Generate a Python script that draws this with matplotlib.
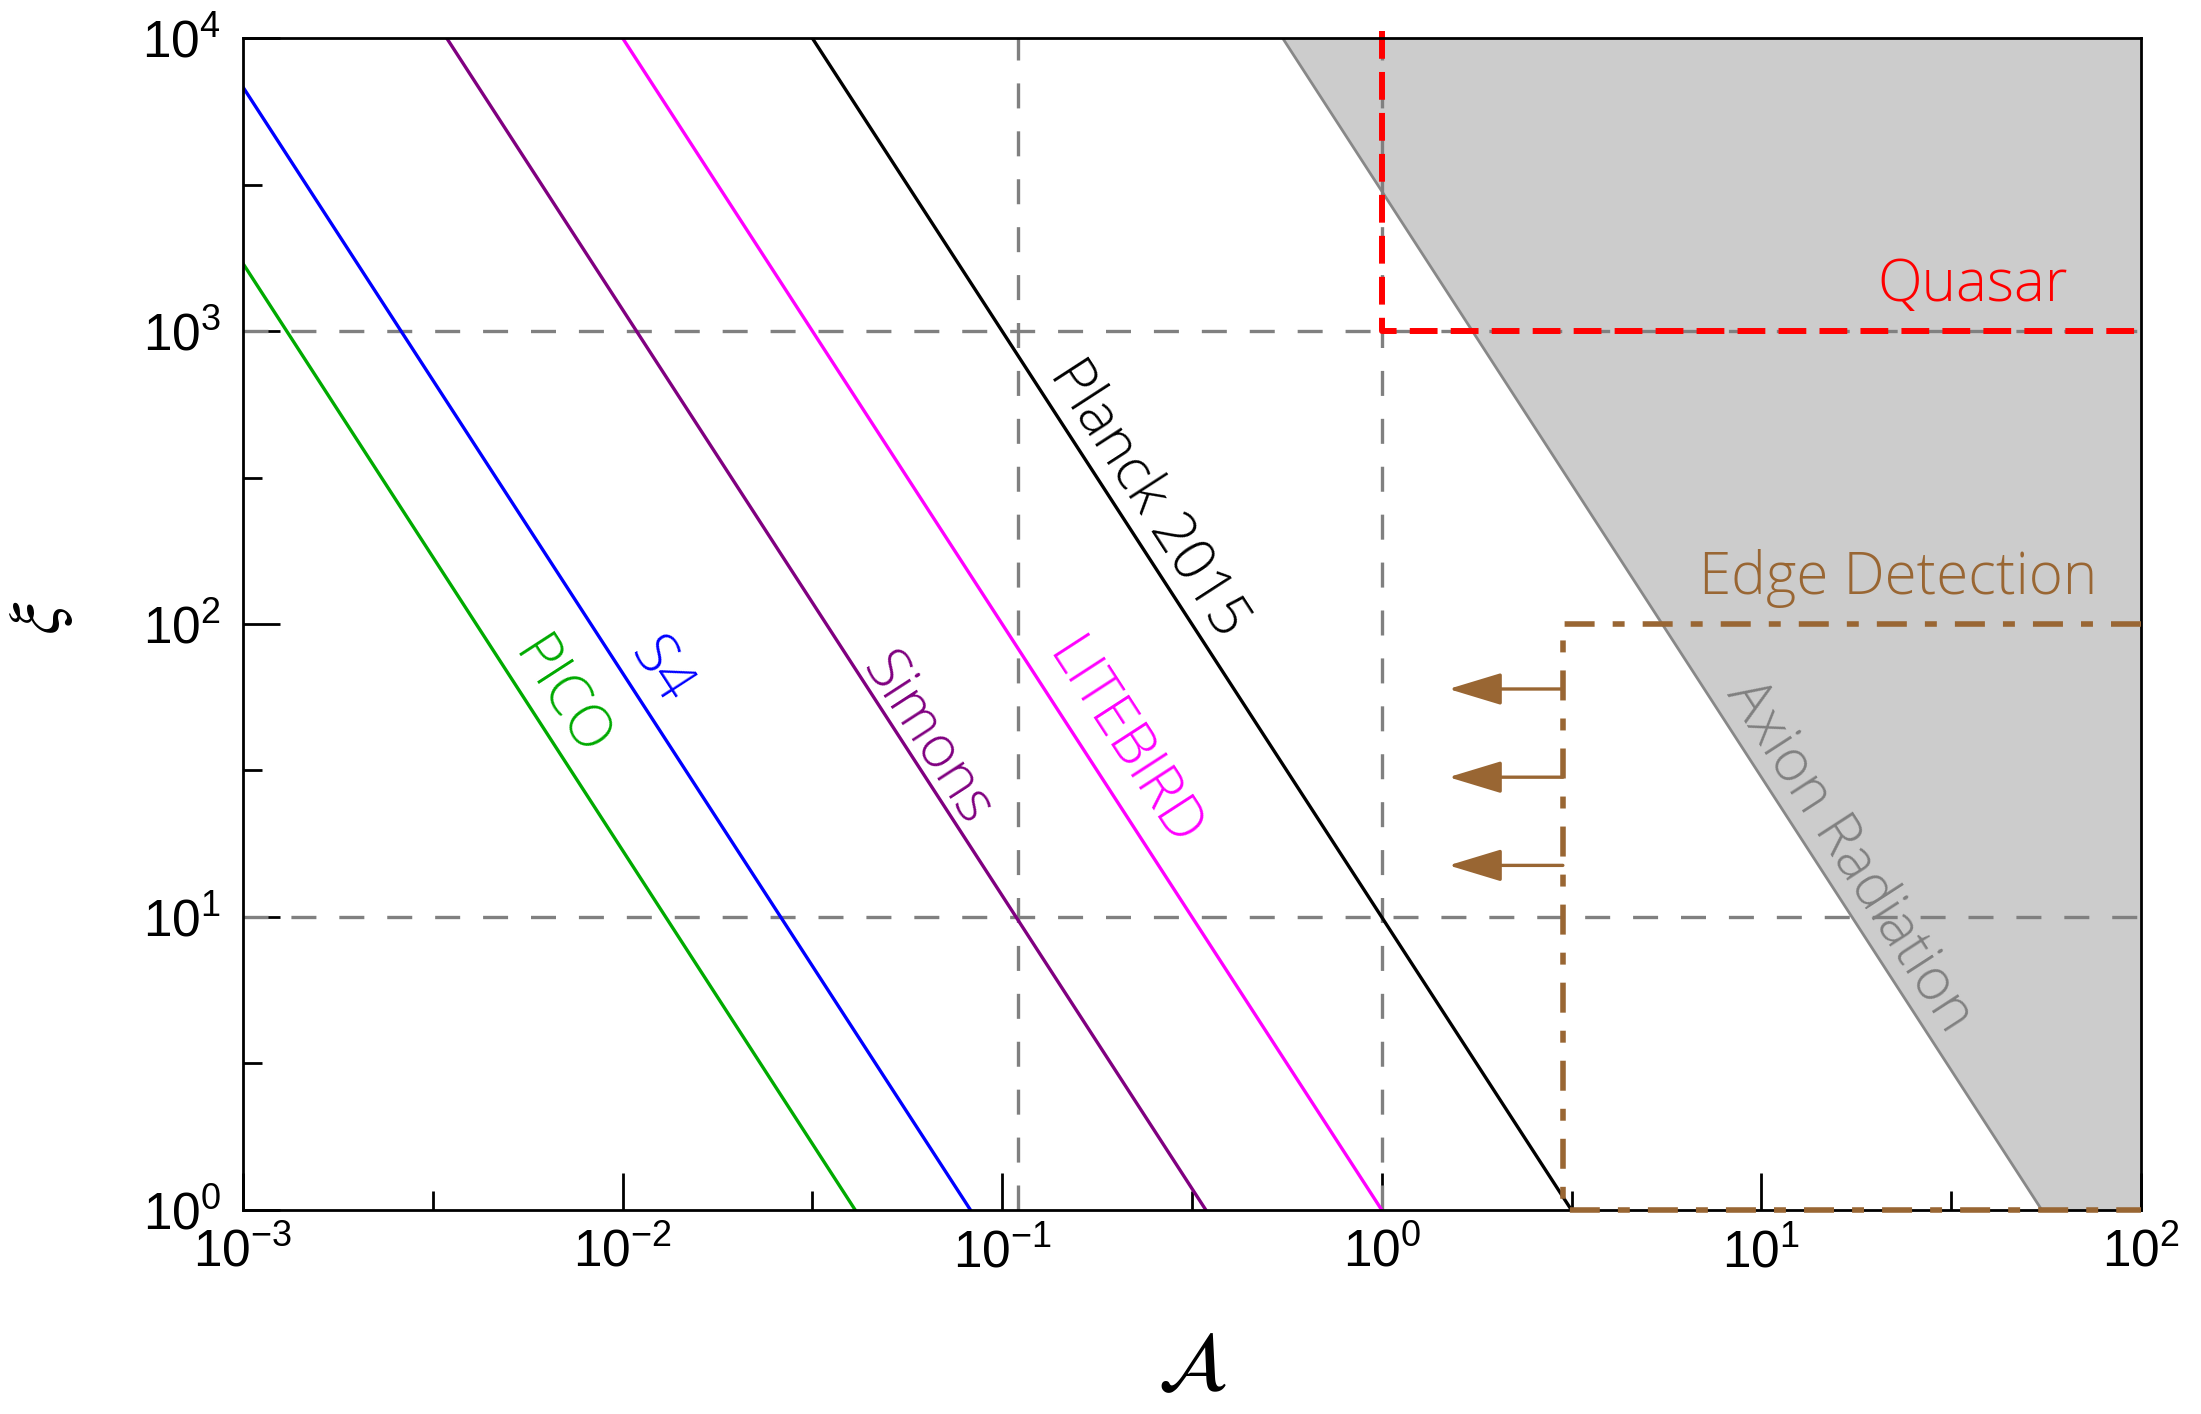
import numpy as np
import matplotlib
matplotlib.use("Agg")
import matplotlib.pyplot as plt
from matplotlib.ticker import FixedLocator, NullFormatter

plt.rcParams['font.family'] = ['Liberation Sans', 'DejaVu Sans']
plt.rcParams['axes.unicode_minus'] = False
plt.rcParams['lines.scale_dashes'] = False

# ---- data -------------------------------------------------------------
# sensitivity curves: endpoints (A, xi) of straight lines in log-log space
pico_A = [1e-3, 0.041]
pico_xi = [1700, 1]
s4_A = [1e-3, 0.0825]
s4_xi = [6800, 1]
simons_A = [0.00344, 0.344]
simons_xi = [1e4, 1]
litebird_A = [0.01, 1.0]
litebird_xi = [1e4, 1]
planck_A = [0.0316, 3.16]
planck_xi = [1e4, 1]

# axion radiation exclusion boundary
axion_A = [0.548, 54.8]
axion_xi = [1e4, 1]

# quasar bound
quasar_A = [1.0, 1.0, 100]
quasar_xi = [1.06e4, 1000, 1000]

# edge detection bound
edge_A = [100, 3, 3, 100]
edge_xi = [100, 100, 1, 1]
edge_arrow_xi = [15, 30, 60]
edge_arrow_from = 3
edge_arrow_to = 1.5

# reference grid lines
hgrid_xi = [10, 1000]
vgrid_A = [0.11, 1.0]

x_lim = (1e-3, 1e2)
y_lim = (1, 1e4)

# ---- styling ----------------------------------------------------------
BROWN = '#996633'
GRAY = '#808080'
FILL = '#cccccc'
LABEL_FONT = ['Open Sans', 'DejaVu Sans']
LABEL_SIZE = 42

fig = plt.figure(figsize=(22.01, 14.14), dpi=100)
ax = fig.add_axes([0.1104, 0.1443, 0.8623, 0.8288])
ax.set_xscale('log')
ax.set_yscale('log')
ax.set_xlim(*x_lim)
ax.set_ylim(*y_lim)

# excluded region to the right of the axion boundary
ax.fill(axion_A + [x_lim[1], x_lim[1]], axion_xi + [y_lim[0], y_lim[1]],
        color=FILL, lw=0, zorder=0)
ax.plot(axion_A, axion_xi, color='#888888', lw=2.0, zorder=1)

# dashed reference lines
for yv in hgrid_xi:
    ax.plot(x_lim, [yv, yv], color=GRAY, lw=2.4, ls=(0, (18, 16.5)), zorder=2)
for xv in vgrid_A:
    ax.plot([xv, xv], y_lim, color=GRAY, lw=2.4, ls=(0, (18, 16.5)), zorder=2)

curves = [
    (pico_A, pico_xi, '#00aa00'),
    (s4_A, s4_xi, '#0000ff'),
    (simons_A, simons_xi, '#800080'),
    (litebird_A, litebird_xi, '#ff00ff'),
    (planck_A, planck_xi, 'black'),
]
for xs, ys, c in curves:
    ax.plot(xs, ys, color=c, lw=2.4, zorder=3)

ax.plot(quasar_A, quasar_xi, color='#ff0000', lw=4.3, ls=(0, (20, 9.5)),
        zorder=4, clip_on=False)
ax.plot(edge_A, edge_xi, color=BROWN, lw=4.0, ls=(0, (21.6, 13, 8.6, 13)),
        zorder=8, clip_on=False)

for yv in edge_arrow_xi:
    ax.annotate('', xy=(edge_arrow_to, yv), xytext=(edge_arrow_from, yv),
                arrowprops=dict(arrowstyle='-|>,head_length=3.3,head_width=1.0',
                                mutation_scale=10, color=BROWN, lw=2.4,
                                shrinkA=0, shrinkB=0), zorder=5)

fig.canvas.draw()


def line_angle(xs, ys):
    p = ax.transData.transform(np.column_stack([xs, ys]))
    d = p[1] - p[0]
    return np.degrees(np.arctan2(d[1], d[0]))


labels = [
    ('PICO', 6.8e-3, 56, pico_A, pico_xi, '#00aa00'),
    ('S4', 0.01253, 69, s4_A, s4_xi, '#0000ff'),
    ('Simons', 0.0632, 40.3, simons_A, simons_xi, '#800080'),
    ('LITEBIRD', 0.2084, 38.9, litebird_A, litebird_xi, '#ff00ff'),
    ('Planck 2015', 0.2428, 268, planck_A, planck_xi, 'black'),
    ('Axion Radiation', 17.1, 16.1, axion_A, axion_xi, GRAY),
]
for txt, xa, ya, xs, ys, c in labels:
    ax.text(xa, ya, txt, color=c, fontsize=LABEL_SIZE, family=LABEL_FONT,
            fontweight='light', rotation=line_angle(xs, ys),
            rotation_mode='anchor', ha='center', va='center', zorder=6)

ax.text(36, 1435, 'Quasar', color='#ff0000', fontsize=LABEL_SIZE,
        family=LABEL_FONT, fontweight='light', ha='center', va='center',
        zorder=6)
ax.text(22.9, 143, 'Edge Detection', color=BROWN, fontsize=LABEL_SIZE,
        family=LABEL_FONT, fontweight='light', ha='center', va='center',
        zorder=6)

# axes frame and ticks
for s in ax.spines.values():
    s.set_linewidth(2.0)
    s.set_zorder(7)

ax.xaxis.set_major_locator(FixedLocator([10.0 ** k for k in range(-3, 3)]))
ax.yaxis.set_major_locator(FixedLocator([10.0 ** k for k in range(0, 5)]))
ax.xaxis.set_minor_locator(FixedLocator([10.0 ** (k + 0.5) for k in range(-3, 2)]))
ax.yaxis.set_minor_locator(FixedLocator([10.0 ** (k + 0.5) for k in range(0, 4)]))
ax.xaxis.set_minor_formatter(NullFormatter())
ax.yaxis.set_minor_formatter(NullFormatter())
ax.tick_params(which='both', direction='in', top=False, right=False,
               width=2.0, labelsize=37)
ax.tick_params(which='major', length=26.5)
ax.tick_params(which='minor', length=13.7)
ax.tick_params(axis='x', which='major', pad=13)
ax.tick_params(axis='y', which='major', pad=16)

ax.set_xlabel(r'$\mathcal{A}$', fontsize=60, math_fontfamily='stix', labelpad=36)
ax.set_ylabel(r'$\xi$', fontsize=52, math_fontfamily='stix',
              ha='center', va='center')
ax.yaxis.set_label_coords(-0.1065, 0.505)

fig.savefig('out.png', dpi=100)
